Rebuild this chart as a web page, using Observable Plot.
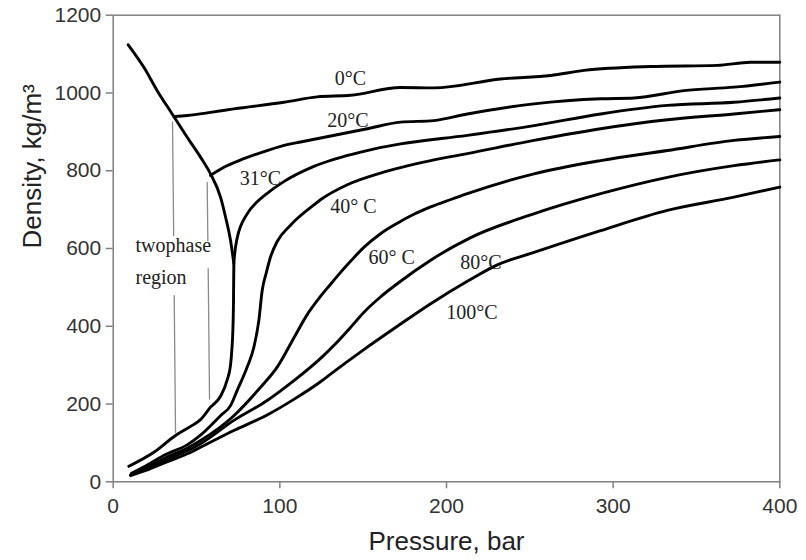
<!DOCTYPE html>
<html>
<head>
<meta charset="utf-8">
<script src="https://cdn.jsdelivr.net/npm/d3@7"></script>
<script src="https://cdn.jsdelivr.net/npm/@observablehq/plot@0.6"></script>
<style>
  html, body { margin: 0; padding: 0; background: #fff; }
  #chart { width: 806px; height: 560px; }
</style>
</head>
<body>
<div id="chart"></div>
<script>
// Tick values
const xTicks = [0, 100, 200, 300, 400];
const yTicks = [0, 200, 400, 600, 800, 1000, 1200];

// Series: [pressure (bar), density (kg/m3)]
const saturation = [[9,1124],[18.4,1066],[26.4,1006],[35.4,946],[44.4,886],[52.4,835],[58.4,792],[64.4,732],[67.4,681],[70.4,621],[72.4,561]];
const iso0 = [[36.4,939],[44.4,942],[58.4,950],[72.4,959],[102.4,976],[122.4,990],[142.4,994],[172.4,1014],[192.4,1013],[232.5,1036],[262.5,1045],[282.5,1058],[322.5,1068],[362.5,1071],[382.5,1079],[400,1079]];
const iso20 = [[58.4,788],[66.4,809],[78.4,831],[92.4,852],[106.4,869],[112.4,874],[152.5,908],[172.4,925],[192.4,929],[212.5,946],[252.5,972],[292.5,985],[312.5,987],[342.5,1006],[372.5,1015],[400,1028]];
const iso31 = [[9.4,40],[24.4,76],[37.4,119],[47.4,145],[52.4,160],[58.4,192],[64.4,220],[68.4,262],[70.4,300],[71.2,340],[71.8,389],[72.2,467],[72.4,561],[74.4,627],[80.4,689],[86.4,720],[92.4,742],[102.4,772],[120.4,811],[150.4,850],[172.4,869],[212.5,891],[252.5,916],[292.5,946],[332.5,968],[372.5,976],[400,987]];
const iso40 = [[11,22],[20,42],[31.4,70],[44.4,95],[52.4,120],[64.4,170],[70.4,196],[74.4,235],[80.4,295],[84.4,346],[87.4,415],[89.4,492],[92,540],[94.4,578],[98.4,618],[106.4,660],[120.4,712],[124.6,726],[140.5,764],[160.4,794],[172.4,808],[190.5,826],[212.5,844],[252.5,878],[292.5,908],[332.5,931],[372.5,946],[400,957]];
const iso60 = [[11,20],[20,37],[31.4,62],[44.4,86],[52.4,106],[72.4,170],[88.4,243],[98.4,295],[108.4,370],[116.4,430],[124.6,478],[130.4,508],[134.5,529],[142.4,567],[150.4,603],[160.4,638],[170.5,665],[180.4,688],[190.5,707],[202.6,726],[212.5,741],[252.5,792],[292.5,826],[332.5,852],[372.5,878],[400,888]];
const iso80 = [[10.4,18],[20,33],[31.4,55],[44.4,80],[52.4,98],[72.4,158],[92.4,209],[108.4,260],[124.6,318],[133.4,355],[142,395],[150.2,435],[160,474],[170.6,510],[190.5,570],[214.5,628],[252.3,689],[292.5,741],[332.5,783],[372.5,813],[400,828]];
const iso100 = [[10.4,16],[20,30],[31.4,50],[44.4,72],[52.4,89],[72.4,132],[92.4,172],[108.4,212],[124.6,258],[130.4,277],[150.4,340],[170.5,400],[190.5,458],[213,517],[230.5,558],[252.5,590],[292.5,646],[332.5,698],[372.5,732],[400,758]];

// Two-phase region markers (segments broken by the text)
const twoPhaseLines = [
  [[35.6,925],[36.3,633]],
  [[36.6,479],[37.4,127]],
  [[56.4,770],[56.8,620]],
  [[57.0,548],[57.8,213]]
];

// Curve labels: [text, pressure, density]
const curveLabels = [["0°C",142.3,1038],["20°C",140.9,930],["31°C",88.4,780],["40° C",144.2,708],["60° C",167.1,577],["80°C",220.6,564],["100°C",215.2,435]];
const regionLabels = [["twophase",13.4,608],["region",13.4,525]];

const xTitle = "Pressure, bar";
const yTitle = "Density, kg/m³";

const allSeries = [saturation, iso0, iso20, iso31, iso40, iso60, iso80, iso100];
const axisGray = "#808080";
const serif = "'Liberation Serif', 'Times New Roman', serif";

const marks = [
  Plot.frame({stroke: axisGray, strokeWidth: 1.5}),
  Plot.axisX({ticks: xTicks, tickFormat: d => String(d), tickSize: 7, tickPadding: 9, stroke: axisGray, strokeWidth: 1.5, label: null, fill: "#333", fontSize: 21}),
  Plot.axisY({ticks: yTicks, tickFormat: d => String(d), tickSize: 7, tickPadding: 5, stroke: axisGray, strokeWidth: 1.5, label: null, fill: "#333", fontSize: 21}),
  ...twoPhaseLines.map(seg => Plot.line(seg, {x: d => d[0], y: d => d[1], stroke: "#8a8a8a", strokeWidth: 1.3})),
  ...allSeries.map(s => Plot.line(s, {x: d => d[0], y: d => d[1], curve: "monotone-x", stroke: "#000", strokeWidth: 2.9, strokeLinejoin: "round", strokeLinecap: "round"})),
  Plot.text(curveLabels, {x: d => d[1], y: d => d[2], text: d => d[0], fontFamily: serif, fontSize: 20, fill: "#222"}),
  Plot.text(regionLabels, {x: d => d[1], y: d => d[2], text: d => d[0], fontFamily: serif, fontSize: 20, fill: "#222", textAnchor: "start"}),
  Plot.text([xTitle], {frameAnchor: "bottom", dy: 68, text: d => d, fontSize: 26, fill: "#222"}),
  Plot.text([yTitle], {frameAnchor: "left", dx: -81, rotate: -90, text: d => d, fontSize: 26, fill: "#222"})
];

const chart = Plot.plot({
  width: 806,
  height: 560,
  marginLeft: 112.7,
  marginRight: 26.7,
  marginTop: 14.7,
  marginBottom: 78.7,
  style: {fontFamily: "'Liberation Sans', Arial, sans-serif", background: "#fff", color: "#333", overflow: "visible"},
  x: {domain: [0, 400]},
  y: {domain: [0, 1200]},
  marks
});
document.getElementById("chart").appendChild(chart);
</script>
</body>
</html>
